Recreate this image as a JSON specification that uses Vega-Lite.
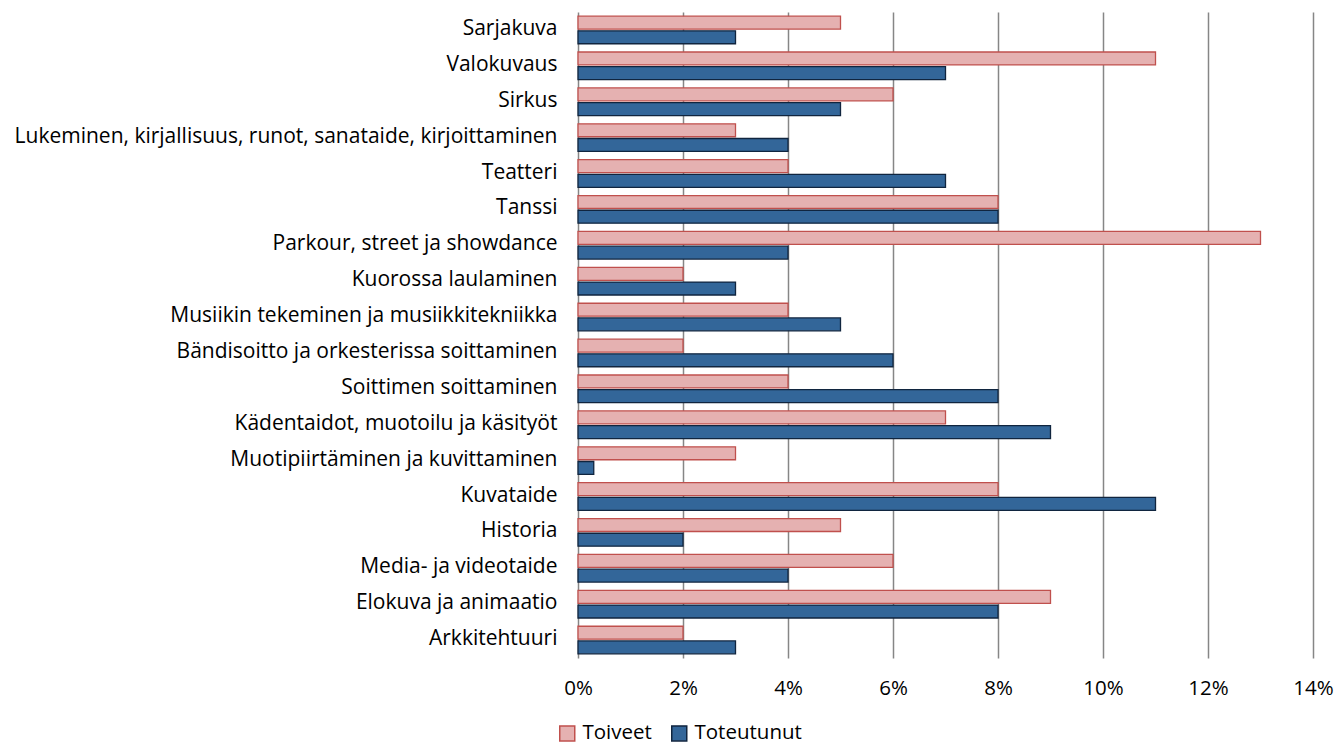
{
  "$schema": "https://vega.github.io/schema/vega-lite/v6.json",
  "autosize": {"type": "none"},
  "width": 735,
  "height": 646,
  "padding": {"left": 578, "top": 12, "right": 25, "bottom": 90},
  "background": "white",
  "config": {
    "font": "Open Sans",
    "view": {"stroke": null}
  },
  "data": {
    "values": [
      {"ala": "Sarjakuva", "sarja": "Toiveet", "arvo": 0.05},
      {"ala": "Sarjakuva", "sarja": "Toteutunut", "arvo": 0.03},
      {"ala": "Valokuvaus", "sarja": "Toiveet", "arvo": 0.11},
      {"ala": "Valokuvaus", "sarja": "Toteutunut", "arvo": 0.07},
      {"ala": "Sirkus", "sarja": "Toiveet", "arvo": 0.06},
      {"ala": "Sirkus", "sarja": "Toteutunut", "arvo": 0.05},
      {"ala": "Lukeminen, kirjallisuus, runot, sanataide, kirjoittaminen", "sarja": "Toiveet", "arvo": 0.03},
      {"ala": "Lukeminen, kirjallisuus, runot, sanataide, kirjoittaminen", "sarja": "Toteutunut", "arvo": 0.04},
      {"ala": "Teatteri", "sarja": "Toiveet", "arvo": 0.04},
      {"ala": "Teatteri", "sarja": "Toteutunut", "arvo": 0.07},
      {"ala": "Tanssi", "sarja": "Toiveet", "arvo": 0.08},
      {"ala": "Tanssi", "sarja": "Toteutunut", "arvo": 0.08},
      {"ala": "Parkour, street ja showdance", "sarja": "Toiveet", "arvo": 0.13},
      {"ala": "Parkour, street ja showdance", "sarja": "Toteutunut", "arvo": 0.04},
      {"ala": "Kuorossa laulaminen", "sarja": "Toiveet", "arvo": 0.02},
      {"ala": "Kuorossa laulaminen", "sarja": "Toteutunut", "arvo": 0.03},
      {"ala": "Musiikin tekeminen ja musiikkitekniikka", "sarja": "Toiveet", "arvo": 0.04},
      {"ala": "Musiikin tekeminen ja musiikkitekniikka", "sarja": "Toteutunut", "arvo": 0.05},
      {"ala": "Bändisoitto ja orkesterissa soittaminen", "sarja": "Toiveet", "arvo": 0.02},
      {"ala": "Bändisoitto ja orkesterissa soittaminen", "sarja": "Toteutunut", "arvo": 0.06},
      {"ala": "Soittimen soittaminen", "sarja": "Toiveet", "arvo": 0.04},
      {"ala": "Soittimen soittaminen", "sarja": "Toteutunut", "arvo": 0.08},
      {"ala": "Kädentaidot, muotoilu ja käsityöt", "sarja": "Toiveet", "arvo": 0.07},
      {"ala": "Kädentaidot, muotoilu ja käsityöt", "sarja": "Toteutunut", "arvo": 0.09},
      {"ala": "Muotipiirtäminen ja kuvittaminen", "sarja": "Toiveet", "arvo": 0.03},
      {"ala": "Muotipiirtäminen ja kuvittaminen", "sarja": "Toteutunut", "arvo": 0.003},
      {"ala": "Kuvataide", "sarja": "Toiveet", "arvo": 0.08},
      {"ala": "Kuvataide", "sarja": "Toteutunut", "arvo": 0.11},
      {"ala": "Historia", "sarja": "Toiveet", "arvo": 0.05},
      {"ala": "Historia", "sarja": "Toteutunut", "arvo": 0.02},
      {"ala": "Media- ja videotaide", "sarja": "Toiveet", "arvo": 0.06},
      {"ala": "Media- ja videotaide", "sarja": "Toteutunut", "arvo": 0.04},
      {"ala": "Elokuva ja animaatio", "sarja": "Toiveet", "arvo": 0.09},
      {"ala": "Elokuva ja animaatio", "sarja": "Toteutunut", "arvo": 0.08},
      {"ala": "Arkkitehtuuri", "sarja": "Toiveet", "arvo": 0.02},
      {"ala": "Arkkitehtuuri", "sarja": "Toteutunut", "arvo": 0.03}
    ]
  },
  "mark": {"type": "bar", "strokeWidth": 1.3, "cornerRadius": 0},
  "encoding": {
    "y": {
      "field": "ala",
      "type": "nominal",
      "sort": null,
      "scale": {"paddingInner": 0.23, "paddingOuter": 0.115},
      "axis": {
        "title": null,
        "ticks": false,
        "domain": false,
        "labelFontSize": 21,
        "labelColor": "#000000",
        "labelPadding": 21,
        "labelOffset": -1,
        "labelLimit": 700
      }
    },
    "yOffset": {
      "field": "sarja",
      "type": "nominal",
      "sort": ["Toiveet", "Toteutunut"],
      "scale": {"paddingInner": 0.12}
    },
    "x": {
      "field": "arvo",
      "type": "quantitative",
      "scale": {"domain": [0, 0.14], "nice": false},
      "axis": {
        "title": null,
        "format": ".0%",
        "values": [0, 0.02, 0.04, 0.06, 0.08, 0.1, 0.12, 0.14],
        "ticks": false,
        "domain": false,
        "grid": true,
        "gridColor": "#868686",
        "gridWidth": 1.5,
        "gridOpacity": 1,
        "labelFontSize": 20.5,
        "labelColor": "#000000",
        "labelPadding": 20,
        "labelFlush": false
      }
    },
    "fill": {
      "field": "sarja",
      "type": "nominal",
      "scale": {"domain": ["Toiveet", "Toteutunut"], "range": ["#E5B1B1", "#336699"]},
      "legend": {
        "title": null,
        "orient": "none",
        "direction": "horizontal",
        "legendX": -21,
        "legendY": 711,
        "symbolType": "square",
        "symbolSize": 225,
        "symbolStrokeWidth": 1.5,
        "labelFontSize": 20.5,
        "labelColor": "#000000",
        "columnPadding": 16,
        "labelOffset": 5
      }
    },
    "stroke": {
      "field": "sarja",
      "type": "nominal",
      "scale": {"domain": ["Toiveet", "Toteutunut"], "range": ["#C0504D", "#10253F"]},
      "legend": null
    }
  }
}
